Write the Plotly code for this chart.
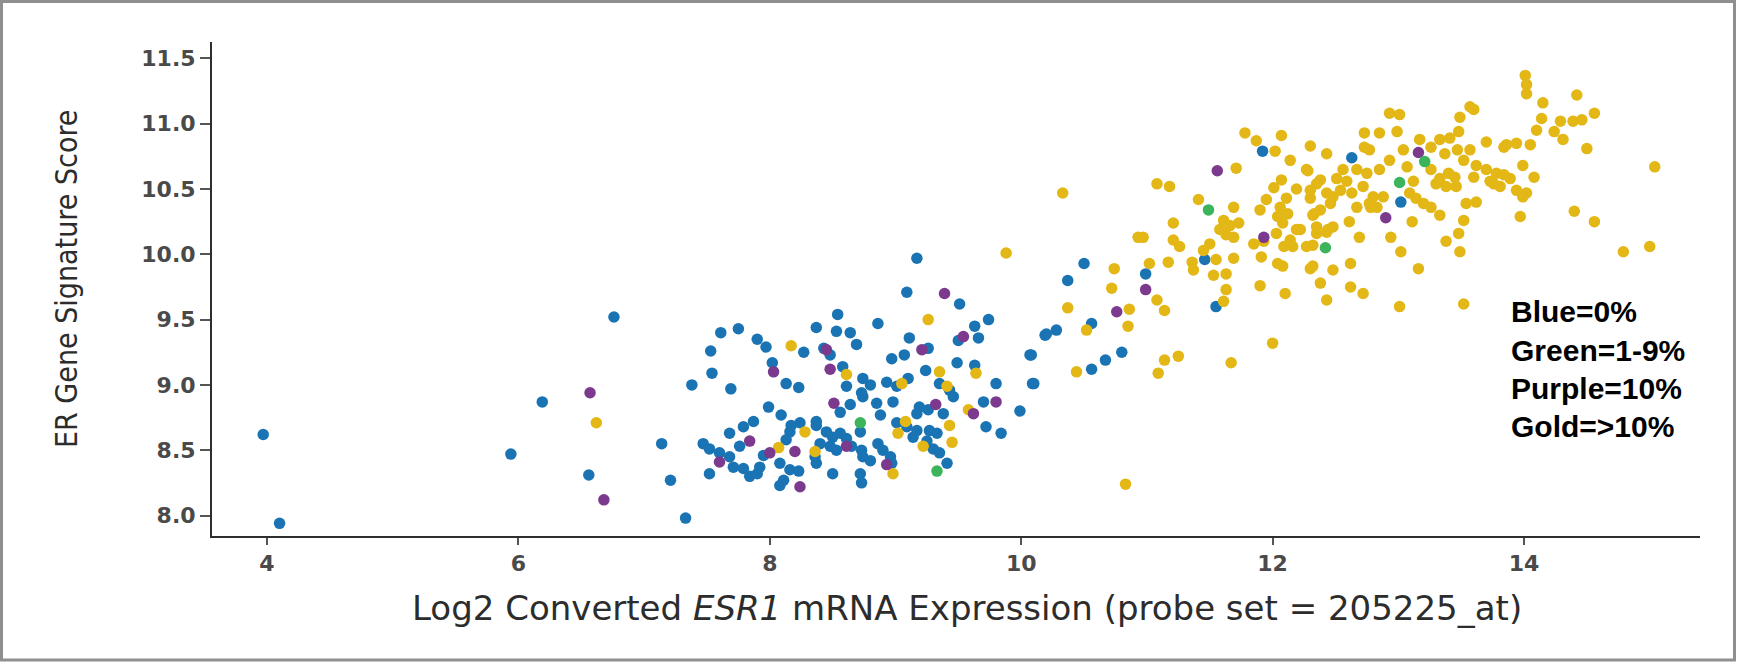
import plotly.graph_objects as go

# ---------------- data ----------------
blue_x = [3.97, 4.10, 5.94, 6.19, 6.56, 6.76,
          7.61, 7.75, 7.90, 7.97, 8.27, 7.53, 7.54, 7.38, 7.69, 8.02, 8.13, 8.23, 8.37, 8.54,
          8.53, 8.43, 8.48, 8.58, 7.99, 8.09, 7.87, 7.79, 8.17, 8.37, 8.61,
          9.17, 9.09, 9.51, 8.86, 9.74, 9.63, 8.64, 9.50, 9.66, 9.11, 10.19, 8.69, 9.26, 8.97,
          9.07, 10.07, 9.49, 9.63, 9.24, 8.74, 8.80, 8.73, 8.93, 9.10, 9.01, 9.80, 10.10, 9.35,
          9.43, 9.46, 8.74, 8.85, 8.98, 8.88, 8.64, 8.56, 9.70, 9.19, 9.26, 9.99, 9.17, 9.38,
          9.72, 9.84,
          7.68, 7.14, 7.47, 7.52, 7.76, 7.60, 7.68, 7.71, 7.52, 7.79, 7.84, 7.92, 7.90, 7.95,
          8.08, 8.16, 8.23, 8.11, 8.08, 8.13, 8.16, 8.24, 8.37, 8.45, 8.50, 8.56, 8.61, 8.40,
          8.48, 8.53, 8.37, 8.36, 8.65, 8.73, 8.74, 8.80, 8.86, 8.90, 8.96, 8.97, 8.72, 8.50,
          8.72, 8.73, 9.01, 9.09, 9.17, 9.14, 9.27, 9.33, 9.25, 9.30, 9.35, 9.41, 7.33, 7.21,
          10.50, 10.37, 10.56, 10.20, 10.28, 10.08, 10.80, 10.67, 10.56, 10.09,
          11.92, 12.63, 10.99, 11.46, 11.55, 13.02]
blue_y = [8.62, 7.94, 8.47, 8.87, 8.31, 9.52,
          9.40, 9.43, 9.35, 9.29, 9.25, 9.26, 9.09, 9.00, 8.97, 9.17, 9.01, 8.98, 9.44, 9.54,
          9.41, 9.28, 9.23, 9.14, 8.83, 8.77, 8.72, 8.68, 8.69, 8.72, 8.99,
          9.97, 9.71, 9.62, 9.47, 9.50, 9.45, 9.40, 9.34, 9.36, 9.36, 9.38, 9.31, 9.28, 9.20,
          9.23, 9.23, 9.17, 9.15, 9.11, 9.05, 9.00, 8.94, 9.02, 9.05, 8.99, 9.01, 9.01, 9.01,
          8.96, 8.91, 8.91, 8.86, 8.87, 8.77, 8.85, 8.79, 8.87, 8.83, 8.81, 8.80, 8.78, 8.78,
          8.68, 8.63,
          8.63, 8.55, 8.55, 8.51, 8.53, 8.48, 8.45, 8.37, 8.32, 8.36, 8.30, 8.37, 8.32, 8.46,
          8.40, 8.35, 8.34, 8.27, 8.23, 8.58, 8.64, 8.71, 8.69, 8.64, 8.60, 8.63, 8.59, 8.55,
          8.53, 8.50, 8.40, 8.45, 8.53, 8.50, 8.45, 8.42, 8.55, 8.50, 8.45, 8.40, 8.64, 8.32,
          8.32, 8.25, 8.71, 8.68, 8.65, 8.60, 8.65, 8.63, 8.57, 8.51, 8.48, 8.40, 7.98, 8.27,
          9.93, 9.80, 9.47, 9.39, 9.42, 9.23, 9.25, 9.19, 9.12, 9.01,
          10.79, 10.74, 9.85, 9.96, 9.60, 10.40]

gold_x = [6.62, 8.17, 8.61, 9.26, 9.88, 9.64, 9.35, 9.05, 9.41, 9.58, 9.43, 8.07, 8.28, 8.36,
          8.98, 9.08, 9.02, 9.22, 9.45, 10.74, 10.93, 10.72, 10.37, 10.86, 10.85, 10.52, 10.44,
          10.83,
          10.33, 11.08, 11.18, 11.71, 11.78, 11.87, 12.02, 12.07, 12.30, 12.43, 12.73, 12.73,
          12.14, 12.28, 12.38, 12.07, 12.01, 12.19, 12.30, 12.11, 11.95, 12.51, 12.59, 12.67,
          12.75, 12.54, 12.63, 12.72, 12.80, 12.67, 12.78, 12.48, 11.41, 11.69, 11.90, 12.06,
          11.61, 11.66, 11.73, 11.58, 11.63, 11.69, 12.04, 12.12, 12.08, 12.19, 12.32, 12.38,
          12.35, 11.21, 10.97, 11.21, 11.26, 11.50, 11.45, 11.85, 11.93, 12.03, 12.14, 12.09,
          12.16, 12.22, 12.44, 12.48, 12.32, 12.61, 12.69, 11.02, 11.17, 11.36, 11.37, 11.55,
          11.69, 11.53, 11.63, 11.63, 11.91, 12.04, 12.08, 11.90, 12.10, 12.30, 12.48, 12.62,
          12.72, 12.43, 12.38, 12.00, 11.08, 11.14, 11.61, 11.14, 11.25, 11.09, 11.67,
          14.01, 14.02, 14.02, 14.42, 14.15, 13.57, 13.60, 14.56, 12.93, 13.01, 13.49, 14.14,
          14.29, 14.39, 14.46, 12.85, 12.99, 13.48, 13.41, 13.33, 13.17, 14.10, 14.24, 14.31,
          13.70, 13.86, 13.94, 14.05, 13.84, 14.50, 13.57, 13.52, 13.47, 13.26, 13.37, 13.04,
          13.07, 12.93, 12.77, 12.85, 13.26, 13.33, 13.40, 13.45, 13.62, 13.70, 13.78, 13.84,
          13.89, 13.73, 13.99, 14.08, 13.60, 13.12, 13.30, 13.38, 13.46, 13.76, 13.81, 13.94,
          14.02, 13.99, 13.09, 13.14, 13.20, 13.26, 12.77, 12.83, 12.88, 13.54, 13.62, 13.33,
          13.97, 14.40, 14.56, 15.04, 13.11, 13.52, 12.94, 13.48, 13.38, 13.02, 13.49, 13.16,
          14.79, 15.00, 13.52, 13.01,
          12.27, 12.35, 12.56, 12.30, 12.43, 12.33, 12.46, 12.35, 12.43, 12.27, 12.32, 12.62]
gold_y = [8.71, 9.30, 9.08, 9.50, 10.01, 9.09, 9.10, 9.01, 8.99, 8.81, 8.69, 8.52, 8.64, 8.49,
          8.32, 8.72, 8.63, 8.53, 8.56, 9.89, 10.13, 9.74, 9.59, 9.58, 9.45, 9.42, 9.10,
          8.24,
          10.47, 10.54, 10.52, 10.66, 10.93, 10.87, 10.79, 10.91, 10.83, 10.77, 10.93, 10.82,
          10.72, 10.64, 10.57, 10.57, 10.51, 10.50, 10.43, 10.43, 10.42, 10.58, 10.56, 10.65,
          10.62, 10.49, 10.47, 10.52, 10.44, 10.36, 10.36, 10.44, 10.42, 10.36, 10.34, 10.36,
          10.26, 10.22, 10.24, 10.19, 10.15, 10.13, 10.29, 10.31, 10.24, 10.19, 10.30, 10.34,
          10.21, 10.24, 10.13, 10.11, 10.06, 10.08, 10.03, 10.08, 10.10, 10.16, 10.11, 10.06,
          10.06, 10.19, 10.19, 10.21, 10.07, 10.25, 10.13, 9.93, 9.94, 9.94, 9.88, 9.96,
          9.97, 9.84, 9.85, 9.73, 9.98, 9.93, 9.91, 9.76, 9.70, 9.89, 9.88, 9.93,
          9.70, 9.65, 9.78, 9.32, 9.65, 9.57, 9.64, 9.19, 9.22, 9.09, 9.17,
          11.37, 11.30, 11.23, 11.22, 11.16, 11.13, 11.11, 11.08, 11.08, 11.07, 11.05, 11.04,
          11.02, 11.02, 11.03, 10.93, 10.94, 10.94, 10.89, 10.88, 10.88, 10.95, 10.94, 10.88,
          10.86, 10.84, 10.85, 10.84, 10.82, 10.81, 10.80, 10.72, 10.80, 10.82, 10.77, 10.80,
          10.67, 10.72, 10.80, 10.65, 10.65, 10.58, 10.62, 10.59, 10.68, 10.65, 10.62, 10.61,
          10.58, 10.56, 10.68, 10.59, 10.59, 10.56, 10.54, 10.52, 10.52, 10.54, 10.52, 10.49,
          10.47, 10.44, 10.47, 10.43, 10.39, 10.36, 10.39, 10.36, 10.44, 10.39, 10.40, 10.30,
          10.29, 10.33, 10.25, 10.67, 10.25, 10.26, 10.13, 10.16, 10.10, 10.02, 10.02, 9.89,
          10.02, 10.06, 9.62, 9.60,
          10.65, 10.54, 10.65, 10.49, 10.47, 10.31, 10.39, 10.16, 10.17, 10.06, 9.91, 9.75]

purple_x = [6.57, 6.68, 8.03, 8.45, 8.48, 8.51, 9.39, 9.54, 9.21, 9.32, 9.80, 9.62, 7.84,
            7.60, 8.00, 8.24, 8.20, 8.61, 8.93, 10.76, 10.99, 11.56, 11.93, 12.90, 13.16]
purple_y = [8.94, 8.12, 9.10, 9.27, 9.12, 8.86, 9.70, 9.37, 9.27, 8.85, 8.87, 8.78, 8.57,
            8.41, 8.48, 8.22, 8.49, 8.53, 8.39, 9.56, 9.73, 10.64, 10.13, 10.28, 10.78]

green_x = [8.72, 9.33, 11.49, 12.42, 13.21, 13.01]
green_y = [8.71, 8.34, 10.34, 10.05, 10.71, 10.55]

x_ticks = [4, 6, 8, 10, 12, 14]
y_ticks = [8.0, 8.5, 9.0, 9.5, 10.0, 10.5, 11.0, 11.5]
y_tick_text = ["8.0", "8.5", "9.0", "9.5", "10.0", "10.5", "11.0", "11.5"]

legend_lines = ["Blue=0%", "Green=1-9%", "Purple=10%", "Gold=>10%"]

# ---------------- figure ----------------
W, H = 1737, 665
L, R, T, B = 212, 37, 42, 129
pw, ph = W - L - R, H - T - B

def px_to_paper_x(px):
    return (px - L) / pw

def px_to_paper_y(py):
    return (H - B - py) / ph

series = [
    (blue_x, blue_y, "#1a74b4"),
    (gold_x, gold_y, "#e3b716"),
    (purple_x, purple_y, "#7b3a8e"),
    (green_x, green_y, "#3bb45c"),
]

fig = go.Figure()
for xs, ys, col in series:
    fig.add_trace(go.Scatter(
        x=xs, y=ys, mode="markers",
        marker=dict(size=11.5, color=col, line=dict(width=0)),
        showlegend=False, hoverinfo="skip"))

tick_font = dict(family="DejaVu Sans", size=22, color="#4a4a4a", weight="bold")

fig.update_layout(
    width=W, height=H,
    margin=dict(l=L, r=R, t=T, b=B, pad=0),
    paper_bgcolor="white", plot_bgcolor="white",
    xaxis=dict(range=[3.5625, 15.40], showgrid=False, zeroline=False,
               showline=True, linecolor="#2e2e2e", linewidth=2,
               ticks="outside", ticklen=7, tickwidth=1.5, tickcolor="#555",
               tickmode="array", tickvals=x_ticks, ticktext=[str(v) for v in x_ticks],
               tickfont=tick_font, ticklabelstandoff=0),
    yaxis=dict(range=[7.843, 11.626], showgrid=False, zeroline=False,
               showline=True, linecolor="#2e2e2e", linewidth=2,
               ticks="outside", ticklen=10, tickwidth=1.5, tickcolor="#555",
               tickmode="array", tickvals=y_ticks, ticktext=y_tick_text,
               tickfont=tick_font, ticklabelstandoff=0),
)

annotations = [
    dict(text="Log2 Converted <i>ESR1</i> mRNA Expression (probe set = 205225_at)",
         xref="paper", yref="paper", x=px_to_paper_x(967), y=px_to_paper_y(608),
         xanchor="center", yanchor="middle", showarrow=False,
         font=dict(family="DejaVu Sans", size=34, color="#2c2c2c")),
    dict(text="ER Gene Signature Score", textangle=-90,
         xref="paper", yref="paper", x=px_to_paper_x(66), y=px_to_paper_y(279),
         xanchor="center", yanchor="middle", showarrow=False,
         font=dict(family="Liberation Sans Narrow, DejaVu Sans Condensed, sans-serif",
                   size=30, color="#2c2c2c")),
]
legend_centers = [312, 350, 388, 426]
for txt, cy in zip(legend_lines, legend_centers):
    annotations.append(dict(
        text="<b>%s</b>" % txt, xref="paper", yref="paper",
        x=px_to_paper_x(1509), y=px_to_paper_y(cy),
        xanchor="left", yanchor="middle", showarrow=False,
        font=dict(family="Liberation Sans, Arial, sans-serif", size=30, color="#000000")))
fig.update_layout(annotations=annotations)

fig.add_shape(type="rect", xref="paper", yref="paper",
              x0=px_to_paper_x(1.5), x1=px_to_paper_x(W - 2.5),
              y0=px_to_paper_y(H - 5), y1=px_to_paper_y(1.5),
              line=dict(color="#8f8f8f", width=3), fillcolor="rgba(0,0,0,0)", layer="above")

fig.write_html("out.html")
